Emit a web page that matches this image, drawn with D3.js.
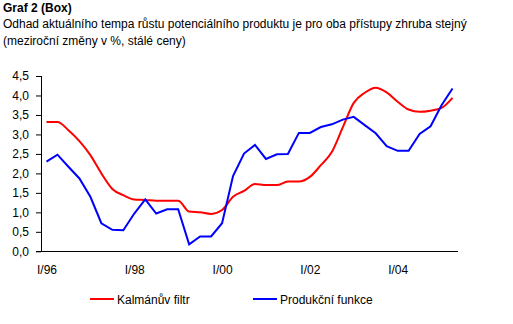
<!DOCTYPE html>
<html><head><meta charset="utf-8">
<script src="https://cdn.jsdelivr.net/npm/d3@7"></script>
<style>body{margin:0;background:#fff}svg{display:block;font-family:Arial,"Liberation Sans",sans-serif}</style>
</head><body><svg id="c" width="513" height="324"></svg>
<script>
const quarters = d3.range(38).map(i => {const y = 1996 + Math.floor(i/4); const q = i%4; return ["I","II","III","IV"][q] + "/" + String(y).slice(2);});
const tickLabels = ["I/96","I/98","I/00","I/02","I/04"];
const kalman = [3.32,3.32,3.11,2.83,2.47,2.00,1.60,1.44,1.33,1.32,1.30,1.30,1.30,1.02,1.00,0.96,1.06,1.40,1.55,1.73,1.70,1.70,1.79,1.79,1.91,2.21,2.55,3.18,3.81,4.07,4.20,4.08,3.84,3.64,3.58,3.61,3.68,3.94];
const produkcni = [2.30,2.48,2.17,1.87,1.40,0.72,0.55,0.54,0.97,1.33,0.97,1.08,1.08,0.18,0.38,0.38,0.72,1.93,2.51,2.73,2.37,2.49,2.50,3.04,3.04,3.19,3.26,3.38,3.45,3.24,3.03,2.70,2.58,2.58,3.01,3.21,3.75,4.18];
const yTicks = [0,0.5,1,1.5,2,2.5,3,3.5,4,4.5];
const seriesNames = ["Kalmánův filtr","Produkční funkce"];
const colors = ["#ff0000","#0000ff"];

const svg = d3.select("#c");
const x = d3.scalePoint().domain(quarters).range([41,458]).padding(0.5);
const y = d3.scaleLinear().domain([0,4.5]).range([251.3,76]);
const fmt = v => d3.format(".1f")(v).replace(".", ",");

svg.append("text").attr("x",3).attr("y",12).attr("font-size",12).attr("font-weight","bold").text("Graf 2 (Box)");
svg.append("text").attr("x",3).attr("y",28).attr("font-size",12).text("Odhad aktuálního tempa růstu potenciálního produktu je pro oba přístupy zhruba stejný");
svg.append("text").attr("x",3).attr("y",45).attr("font-size",12).text("(meziroční změny v %, stálé ceny)");

const ya = svg.append("g").attr("transform","translate(41,0)")
  .call(d3.axisLeft(y).tickValues(yTicks).tickSize(5).tickPadding(7).tickFormat(fmt));
ya.select(".domain").attr("stroke","#000").attr("d","M0.5,76V251.5");
ya.selectAll("text").attr("font-size",12).attr("fill","#000").attr("font-family","Arial, 'Liberation Sans', sans-serif");
ya.selectAll("line").attr("stroke","#000");

const xa = svg.append("g").attr("transform","translate(0,251)")
  .call(d3.axisBottom(x).tickValues(tickLabels).tickSize(0).tickPadding(14));
xa.select(".domain").attr("stroke","#000").attr("d","M36,0.5H458");
xa.selectAll("text").attr("font-size",12).attr("fill","#000").attr("font-family","Arial, 'Liberation Sans', sans-serif");

const curves = [d3.curveMonotoneX, d3.curveLinear];
[kalman, produkcni].forEach((s,k) => {
  svg.append("path").datum(s).attr("fill","none").attr("stroke",colors[k]).attr("stroke-width",2)
    .attr("d", d3.line().x((d,i)=>x(quarters[i])).y(d=>y(d)).curve(curves[k]));
});

const lx = [90,253];
seriesNames.forEach((n,k) => {
  svg.append("line").attr("x1",lx[k]).attr("x2",lx[k]+24).attr("y1",299).attr("y2",299).attr("stroke",colors[k]).attr("stroke-width",2);
  svg.append("text").attr("x",lx[k]+27).attr("y",303.5).attr("font-size",12).text(n);
});
</script></body></html>
